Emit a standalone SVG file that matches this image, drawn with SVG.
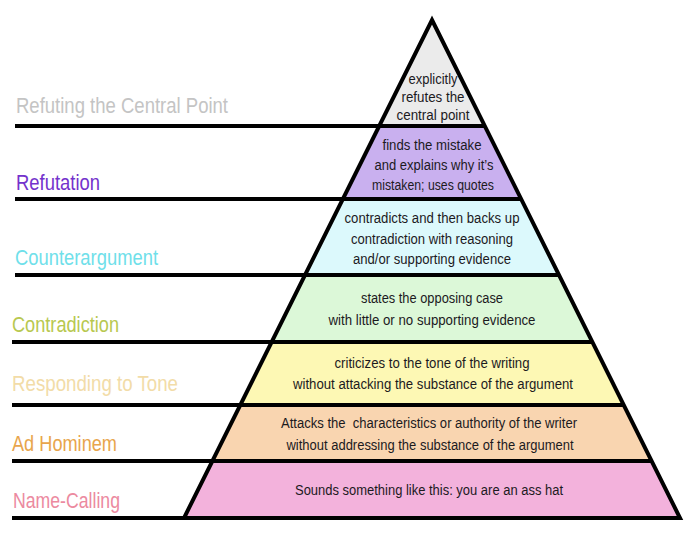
<svg xmlns="http://www.w3.org/2000/svg" width="699" height="536" viewBox="0 0 699 536">
<style>
.lbl{font-family:"Liberation Sans",Arial,sans-serif;font-size:21.5px}
.t{font-family:"Liberation Sans",Arial,sans-serif;font-size:14px;fill:#1c1a1e;text-anchor:middle;white-space:pre}
.ln{stroke:#000;stroke-width:4;fill:none}
</style>
<rect width="699" height="536" fill="#fff"/>
<g id="bands">
<g id="lvl7"><polygon points="432,20 484.8,126 379.2,126" fill="#ebebeb"/>
<text class="t" x="433" y="84" textLength="49" lengthAdjust="spacingAndGlyphs">explicitly</text>
<text class="t" x="433" y="102" textLength="63" lengthAdjust="spacingAndGlyphs">refutes the</text>
<text class="t" x="433" y="120" textLength="73" lengthAdjust="spacingAndGlyphs">central point</text></g>
<g id="lvl6"><polygon points="379.2,126 484.8,126 521.1,199 342.9,199" fill="#c9b0ef"/>
<text class="t" x="432" y="150" textLength="99" lengthAdjust="spacingAndGlyphs">finds the mistake</text>
<text class="t" x="434" y="170" textLength="119" lengthAdjust="spacingAndGlyphs">and explains why it’s</text>
<text class="t" x="433" y="190" textLength="122" lengthAdjust="spacingAndGlyphs">mistaken; uses quotes</text></g>
<g id="lvl5"><polygon points="342.9,199 521.1,199 559,275 305,275" fill="#dcf9fc"/>
<text class="t" x="432" y="223" textLength="175" lengthAdjust="spacingAndGlyphs">contradicts and then backs up</text>
<text class="t" x="432" y="244" textLength="162" lengthAdjust="spacingAndGlyphs">contradiction with reasoning</text>
<text class="t" x="432" y="264" textLength="158" lengthAdjust="spacingAndGlyphs">and/or supporting evidence</text></g>
<g id="lvl4"><polygon points="305,275 559,275 592.4,342 271.6,342" fill="#dcf8d8"/>
<text class="t" x="432" y="303" textLength="142" lengthAdjust="spacingAndGlyphs">states the opposing case</text>
<text class="t" x="432" y="325" textLength="207" lengthAdjust="spacingAndGlyphs">with little or no supporting evidence</text></g>
<g id="lvl3"><polygon points="271.6,342 592.4,342 623.7,405 240.3,405" fill="#fdf8b4"/>
<text class="t" x="432" y="368" textLength="195" lengthAdjust="spacingAndGlyphs">criticizes to the tone of the writing</text>
<text class="t" x="433" y="389" textLength="280" lengthAdjust="spacingAndGlyphs">without attacking the substance of the argument</text></g>
<g id="lvl2"><polygon points="240.3,405 623.7,405 651.6,461 212.4,461" fill="#f9d5b0"/>
<text class="t" x="429" y="428" textLength="296" lengthAdjust="spacingAndGlyphs">Attacks the  characteristics or authority of the writer</text>
<text class="t" x="430" y="450" textLength="287" lengthAdjust="spacingAndGlyphs">without addressing the substance of the argument</text></g>
<g id="lvl1"><polygon points="212.4,461 651.6,461 680,518 184,518" fill="#f3b2dc"/>
<text class="t" x="429" y="495" textLength="268" lengthAdjust="spacingAndGlyphs">Sounds something like this: you are an ass hat</text></g>
</g>
<g id="connectors">
<polygon class="ln" points="432,20 680,518 184,518" stroke-linejoin="miter"/>
<line class="ln" x1="15" y1="126" x2="484.8" y2="126"/>
<line class="ln" x1="15" y1="199" x2="521.1" y2="199"/>
<line class="ln" x1="15" y1="275" x2="559" y2="275"/>
<line class="ln" x1="12" y1="342" x2="592.4" y2="342"/>
<line class="ln" x1="12" y1="405" x2="623.7" y2="405"/>
<line class="ln" x1="12" y1="461" x2="651.6" y2="461"/>
<line class="ln" x1="12" y1="518" x2="184" y2="518"/>
</g>
<g id="labels">
<text class="lbl" x="16" y="113" fill="#c4c4c4" textLength="212" lengthAdjust="spacingAndGlyphs">Refuting the Central Point</text>
<text class="lbl" x="16" y="190" fill="#7432cc" textLength="84" lengthAdjust="spacingAndGlyphs">Refutation</text>
<text class="lbl" x="15" y="265" fill="#6fe0ea" textLength="143" lengthAdjust="spacingAndGlyphs">Counterargument</text>
<text class="lbl" x="12" y="332" fill="#b8c850" textLength="107" lengthAdjust="spacingAndGlyphs">Contradiction</text>
<text class="lbl" x="12" y="391" fill="#f2dca8" textLength="166" lengthAdjust="spacingAndGlyphs">Responding to Tone</text>
<text class="lbl" x="12" y="451" fill="#e8a54c" textLength="105" lengthAdjust="spacingAndGlyphs">Ad Hominem</text>
<text class="lbl" x="13" y="508" fill="#ec8aa0" textLength="107" lengthAdjust="spacingAndGlyphs">Name-Calling</text>
</g>
</svg>
